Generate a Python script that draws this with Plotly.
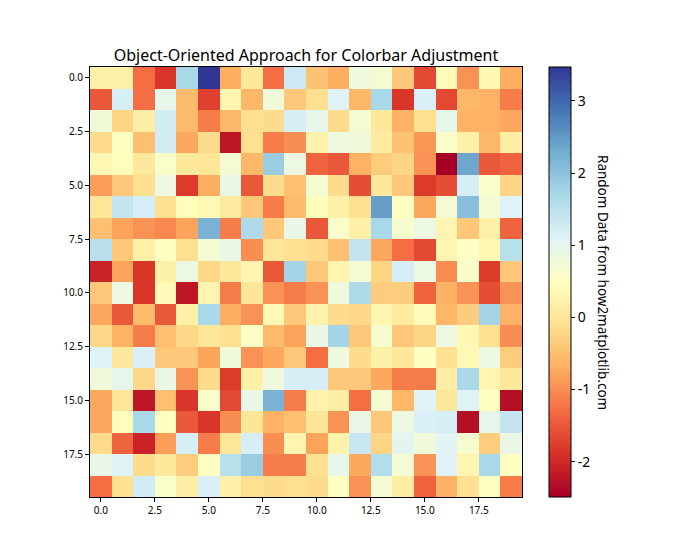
import plotly.graph_objects as go

rows = list(range(20))
cols = list(range(20))

z = [
    [0.2, 0.2, -1.3, -1.85, 1.7, 3.47, -0.7, 0.05, -1.3, 1.3, -0.45, -0.7, 0.8, 0.7, -0.4, -1.65, 0.4, -0.95, 0.35, -0.7],
    [-1.5, 1.2, -1.3, 0.95, -0.55, -1.75, 0.3, -0.6, 0.75, -0.4, -0.1, 1.1, -0.6, 1.7, -1.85, 1.15, -1.65, -0.6, -0.65, -1.15],
    [0.75, -0.25, 0.15, 1.25, -0.55, -1.15, -0.6, -0.1, -0.15, 1.2, 0.95, -0.15, 0.7, 0.05, -0.65, -0.1, 0.95, -0.65, -0.65, -0.75],
    [-0.15, 0.5, -0.5, 1.25, -0.75, -0.15, -2.2, -0.1, -1.15, -1.0, 0.25, 0.8, 0.75, 0.1, -0.45, -0.9, 0.6, 0.2, -0.6, 0.15],
    [0.35, 0.45, 0.05, 0.6, 0.05, 0.0, 0.7, -0.6, 1.85, 0.85, -1.4, -1.5, -0.65, -0.35, -0.25, -0.95, -2.49, 2.35, -1.5, -1.4],
    [-0.85, -0.4, -0.1, 0.85, -1.8, -0.7, 0.9, -1.5, -0.15, -0.5, 0.7, -0.15, -1.6, 0.05, -0.4, -1.8, -1.6, 1.2, 0.6, -0.25],
    [0.0, 1.4, 1.2, -0.1, 0.45, 0.35, 0.1, -0.4, -1.15, -0.55, 0.45, 0.2, -0.1, 2.45, 0.5, -0.75, 0.7, 2.05, 0.7, 1.1],
    [-0.5, -0.8, -0.95, -1.05, -0.8, 2.2, -1.15, 1.65, -0.4, 0.9, -1.5, 0.6, 0.2, 1.7, 0.65, 0.85, 0.3, -0.4, 0.2, -1.4],
    [1.55, -0.4, 0.2, 0.5, -0.1, 0.7, 0.9, -1.0, 0.0, -0.1, -0.15, -0.5, 1.4, -0.75, -1.3, -1.65, 0.3, 0.55, 0.35, 1.55],
    [-2.05, -0.8, -1.85, 0.2, 0.85, -0.2, 0.05, 0.3, -1.5, 1.75, -0.4, 0.3, 0.7, -0.25, 1.2, 0.85, -1.0, 0.6, -1.8, -0.4],
    [-0.4, 0.85, -1.85, 0.4, -2.2, 0.3, -1.15, 0.0, -0.95, -1.15, -0.95, 0.8, 1.65, -0.35, -0.35, -1.4, -0.65, -0.95, -1.6, -0.95],
    [-0.75, -1.5, -0.55, -1.5, 0.2, 1.7, -0.7, -0.95, 0.35, -0.4, 0.25, -0.15, -0.2, 0.3, 0.1, 0.4, -0.6, -0.35, 1.75, -0.65],
    [-0.2, -0.65, -1.15, -0.5, -0.2, 0.0, -0.1, 0.55, -0.55, -0.8, 0.9, 1.75, -0.4, 0.65, -0.4, -0.25, 0.85, 0.35, -0.1, -1.0],
    [1.1, 0.05, 1.15, -0.4, -0.4, -0.8, 0.75, -0.95, -0.75, -0.4, -1.3, 0.8, -0.15, 0.2, 0.05, 0.5, -0.1, 0.35, 0.85, -0.35],
    [0.75, 0.95, -0.2, 0.9, -0.95, -0.15, -1.8, 0.2, 0.8, 1.2, 1.2, -0.4, -0.4, -0.75, -1.15, -1.15, 0.15, 1.7, 0.3, 0.05],
    [-0.75, 0.0, -2.2, -0.5, -1.85, 0.6, -1.65, 0.9, 2.2, -1.15, 0.25, 0.15, -1.3, 0.7, -0.6, 1.05, 0.05, 1.1, 0.5, -2.3],
    [-0.75, 0.45, 1.7, 0.5, -1.5, -1.85, -1.0, 0.0, -0.65, -0.5, 0.0, -0.95, 0.9, -0.4, 0.85, 1.15, 1.2, -2.3, 0.95, 1.4],
    [-0.15, -1.4, -2.05, -0.85, 1.2, -1.15, 0.0, 1.2, -1.0, 0.3, -0.8, 0.25, 1.35, -0.25, 1.0, 0.75, 1.05, 0.65, -0.35, 0.9],
    [0.9, 1.1, -0.15, 0.05, -0.35, 0.5, 1.55, 1.85, -1.15, -1.15, -0.1, 0.95, -0.75, 1.6, 0.7, -0.95, 1.1, 0.3, 1.7, 0.5],
    [-1.3, -0.1, 1.25, 0.6, 0.15, 1.15, 0.2, -0.1, -0.15, -0.1, -0.15, 0.5, -0.95, 0.7, 0.15, -1.4, -0.65, -0.1, 0.5, -1.15],
]

cbar_ticks = [-2, -1, 0, 1, 2, 3]
cbar_ticktext = ["-2", "-1", "0", "1", "2", "3"]
title_text = "Object-Oriented Approach for Colorbar Adjustment"
cbar_label = "Random Data from how2matplotlib.com"

zmin = min(min(r) for r in z)
zmax = max(max(r) for r in z)

font_family = "Noto Sans"
off = 8  # page body offset

L, T = 90 - off, 67 - off
PW, PH = 432, 430

fig = go.Figure(
    go.Heatmap(
        z=z,
        x=cols,
        y=rows,
        colorscale="RdYlBu",
        zmin=zmin,
        zmax=zmax,
        colorbar=dict(
            x=(549 - 90) / PW,
            xanchor="left",
            y=0.5,
            yanchor="middle",
            len=1,
            lenmode="fraction",
            thickness=22,
            thicknessmode="pixels",
            outlinewidth=1,
            outlinecolor="black",
            tickvals=cbar_ticks,
            ticktext=cbar_ticktext,
            ticks="outside",
            ticklen=4,
            tickcolor="black",
            tickfont=dict(size=14, color="black", family=font_family),
            xpad=0,
            ypad=0,
        ),
    )
)

fig.update_layout(
    width=700,
    height=560,
    margin=dict(l=L, r=700 - L - PW, t=T, b=560 - T - PH),
    paper_bgcolor="white",
    plot_bgcolor="white",
    font=dict(family=font_family, color="black"),
    title=dict(
        text=title_text,
        x=(306 - off) / 700,
        xanchor="center",
        y=1 - (55 - off) / 560,
        yanchor="middle",
        yref="container",
        font=dict(size=16, color="black", family=font_family),
    ),
    xaxis=dict(
        range=[-0.5, 19.5],
        tick0=0,
        dtick=2.5,
        tickformat=".1f",
        ticks="outside",
        ticklen=4,
        tickcolor="black",
        showline=True,
        mirror=True,
        linecolor="black",
        linewidth=1,
        showgrid=False,
        zeroline=False,
        tickfont=dict(size=10, color="black"),
    ),
    yaxis=dict(
        range=[19.5, -0.5],
        tick0=0,
        dtick=2.5,
        tickformat=".1f",
        ticks="outside",
        ticklen=4,
        tickcolor="black",
        showline=True,
        mirror=True,
        linecolor="black",
        linewidth=1,
        showgrid=False,
        zeroline=False,
        tickfont=dict(size=10, color="black"),
    ),
    annotations=[
        dict(
            text=cbar_label,
            xref="paper",
            yref="paper",
            x=(603 - 90) / PW,
            y=0.5,
            xanchor="center",
            yanchor="middle",
            textangle=90,
            showarrow=False,
            font=dict(size=13.5, color="black", family=font_family),
        )
    ],
)

fig.write_html("out.html")
